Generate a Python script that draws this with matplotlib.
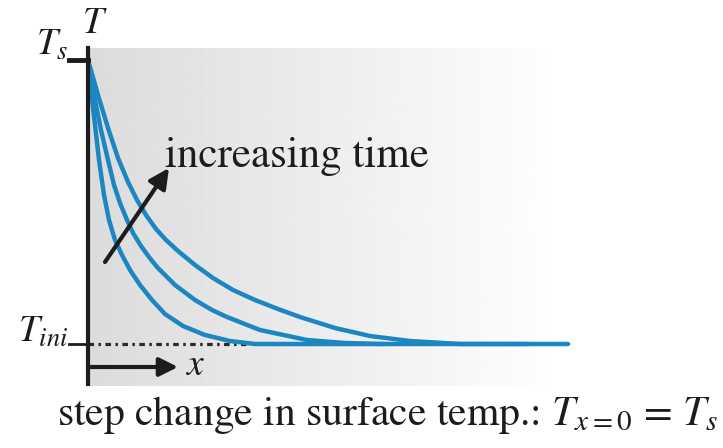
import numpy as np
import matplotlib.pyplot as plt

plt.rcParams['font.family'] = ['STIXGeneral', 'DejaVu Serif']
plt.rcParams['mathtext.fontset'] = 'stix'
plt.rcParams['lines.scale_dashes'] = False

# schematic profiles: depth x and temperature above T_ini (arbitrary units, T_s = 284)
x_early = [0, 3, 7, 11, 16, 21, 27, 34, 42, 52, 64, 77, 95, 117, 142, 167, 295]
t_early = [284, 254, 219, 184, 149, 124, 104, 89, 74, 59, 44, 30, 18, 9, 3, 0, 0]

x_mid = [0, 6, 13, 20, 26, 32, 39, 45, 53, 61, 69, 87, 107, 124, 139, 172, 219, 257, 292, 439]
t_mid = [284, 249, 214, 184, 159, 141, 124, 111, 98, 87, 77, 59, 44, 34, 27, 14, 4, 1, 0, 0]

x_late = [0, 10, 20, 30, 40, 49, 58, 68, 78, 90, 107, 125, 145, 167, 190, 212, 247, 282, 322, 372, 480]
t_late = [284, 249, 216, 186, 162, 144, 129, 115, 104, 93, 79, 66, 54, 44, 35, 27, 16, 8, 3, 0, 0]

curves = [(x_early, t_early), (x_mid, t_mid), (x_late, t_late)]

T_S = 284
T_INI = 0

blue = '#1b86c1'
ink = '#1c1c1c'

fig = plt.figure(figsize=(7.23, 4.48), dpi=100)
ax = fig.add_axes([88 / 723, 62 / 448, 480 / 723, 338 / 448])
ax.set_xlim(0, 480)
ax.set_ylim(-42, 296)
ax.axis('off')

# grey background fading to white
grad = np.linspace(0.86, 1.0, 256).reshape(1, -1)
ax.imshow(grad, cmap='gray', vmin=0, vmax=1, aspect='auto',
          extent=(-3, 478, -42, 296), zorder=0)

# T axis and the two level ticks
ax.plot([0, 0], [-40, 296], color=ink, lw=3, clip_on=False, zorder=5)
ax.plot([-19, 0], [T_S, T_S], color=ink, lw=3.5, clip_on=False, zorder=5)
ax.plot([-19, 0], [T_INI, T_INI], color=ink, lw=2, clip_on=False, zorder=5)

# initial temperature reference line
ax.plot([0, 162], [T_INI, T_INI], color='#2a2a2a', lw=2.3,
        linestyle=(0, (4, 3.2, 1.8, 3.2)), zorder=2)

for xs, ts in curves:
    ax.plot(xs, ts, color=blue, lw=3.2, solid_joinstyle='round',
            solid_capstyle='round', clip_on=False, zorder=3)

# x axis arrow
ax.annotate('', xy=(90, -23), xytext=(0, -23),
            arrowprops=dict(arrowstyle='-|>', color=ink, lw=3,
                            mutation_scale=28, shrinkA=0, shrinkB=0), zorder=6)
ax.text(97, -31, '$x$', fontsize=27, color=ink, ha='left', va='baseline')

# increasing time arrow
ax.annotate('', xy=(81, 176), xytext=(17, 82),
            arrowprops=dict(arrowstyle='-|>', color=ink, lw=3,
                            mutation_scale=30, shrinkA=0, shrinkB=0), zorder=6)
ax.text(77, 177, 'increasing time', fontsize=31, color=ink,
        ha='left', va='baseline')

ax.text(7, 311, '$T$', fontsize=27, color=ink, ha='center', va='baseline')
ax.text(-20, 289, '$T_s$', fontsize=27, color=ink, ha='right', va='baseline')
ax.text(-20, 2, '$T_{ini}$', fontsize=27, color=ink, ha='right', va='baseline')

fig.text(57 / 723, 23 / 448, 'step change in surface temp.: $T_{x=0}$ = $T_s$',
         fontsize=30, color=ink, ha='left', va='baseline')

fig.savefig('out.png', dpi=100)
